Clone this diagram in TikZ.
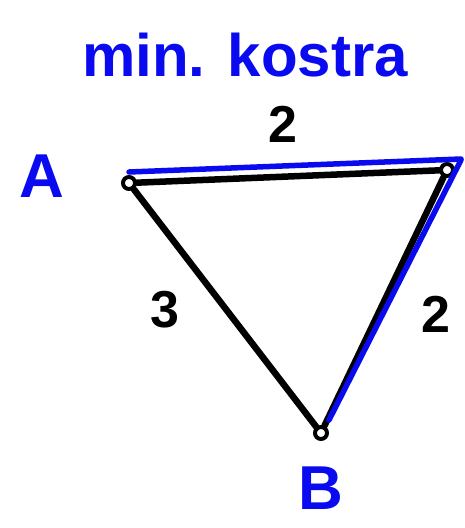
\documentclass[tikz,border=0pt]{standalone}
\usepackage{fontspec}
\setmainfont{Liberation Sans}
\definecolor{penblue}{RGB}{10,10,240}
\begin{document}
\begin{tikzpicture}[x=1pt,y=-1pt,
  vtx/.style={circle,draw=black,line width=4pt,inner sep=0pt,minimum size=12pt},
  edge/.style={draw=black,line width=6.5pt,line cap=round,line join=round},
  mst/.style={draw=penblue,line width=5.5pt,line cap=round},
  wlabel/.style={text=black,font=\fontsize{52}{52}\selectfont\bfseries},
  vlabel/.style={text=penblue,font=\fontsize{62}{62}\selectfont\bfseries},
  title/.style={text=penblue,font=\fontsize{60}{60}\selectfont\bfseries}]
\useasboundingbox[fill=white] (0,0) rectangle (464,528);
\node[vtx] (A) at (129,183) {};
\node[vtx] (C) at (447,170) {};
\node[vtx] (B) at (321,433) {};
\draw[edge] (A) -- (C);
\draw[edge] (A) -- (B);
\draw[edge] (C) -- (B);
\draw[mst] ([yshift=11pt]A.center) -- ([xshift=14pt,yshift=11pt]C.center);
\draw[mst] ([xshift=14pt,yshift=10pt]C.center) -- ([xshift=8pt,yshift=13pt]B.center);
\node[title] (t) at (245,55) {min. kostra};
\node[wlabel] (w1) at (283,124) {2};
\node[wlabel] (w2) at (165,310) {3};
\node[wlabel] (w3) at (436,314) {2};
\node[vlabel] (la) at (42,176) {A};
\node[vlabel] (lb) at (321,488) {B};
\end{tikzpicture}
\end{document}
